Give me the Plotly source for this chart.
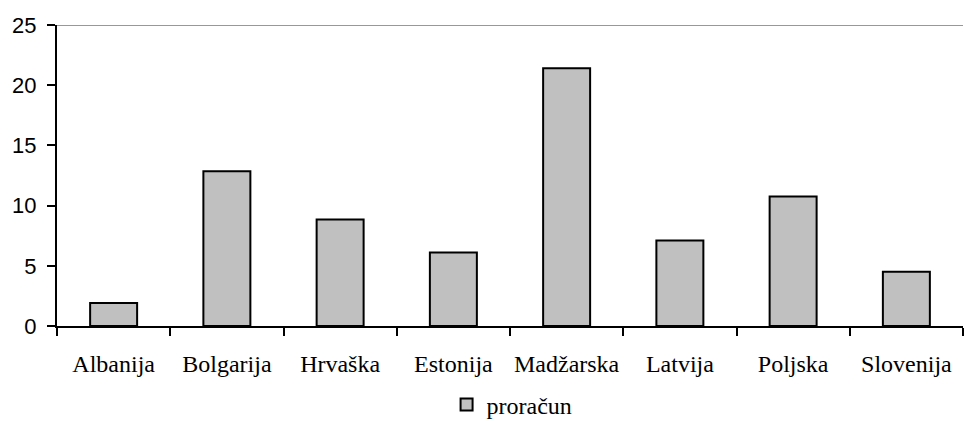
import plotly.graph_objects as go

categories = ["Albanija", "Bolgarija", "Hrvaška", "Estonija", "Madžarska", "Latvija", "Poljska", "Slovenija"]
values = [1.9, 12.85, 8.85, 6.1, 21.4, 7.1, 10.75, 4.5]
series_name = "proračun"
y_ticks = [0, 5, 10, 15, 20, 25]

SERIF = "Liberation Serif, Times New Roman, serif"
SANS = "Liberation Sans, Arial, sans-serif"

fig = go.Figure()
fig.add_trace(go.Bar(
    x=categories, y=values, name=series_name,
    marker=dict(color="#C0C0C0", line=dict(color="black", width=2)),
    showlegend=True,
))

fig.add_shape(type="line", xref="paper", yref="y", x0=0, x1=1, y0=25, y1=25,
              line=dict(color="#333333", width=1))

fig.update_layout(
    width=965, height=421,
    margin=dict(l=57, r=2, t=25, b=95),
    plot_bgcolor="white", paper_bgcolor="white",
    bargap=0.585,
    showlegend=True,
    legend=dict(orientation="h", x=0.43, xanchor="left",
                yref="container", y=0.038, yanchor="middle",
                font=dict(family=SERIF, size=24, color="black"),
                itemwidth=30, tracegroupgap=0),
    xaxis=dict(
        type="category", showline=True, linecolor="black", linewidth=2,
        ticks="outside", tickson="boundaries", ticklen=8, tickwidth=2, tickcolor="black",
        tickfont=dict(family=SERIF, size=24, color="black"),
        tickangle=0, ticklabelstandoff=15,
        showgrid=False, zeroline=False, automargin=False,
    ),
    yaxis=dict(
        range=[0, 25], tickvals=y_ticks, showline=True, linecolor="black", linewidth=2,
        ticks="outside", ticklen=8, tickwidth=2, tickcolor="black",
        tickfont=dict(family=SANS, size=22, color="black"),
        ticklabelstandoff=6,
        showgrid=False, zeroline=False, automargin=False,
    ),
)

fig.write_html("out.html", config={"displayModeBar": False},
               post_script="document.body.style.margin='0px';")
